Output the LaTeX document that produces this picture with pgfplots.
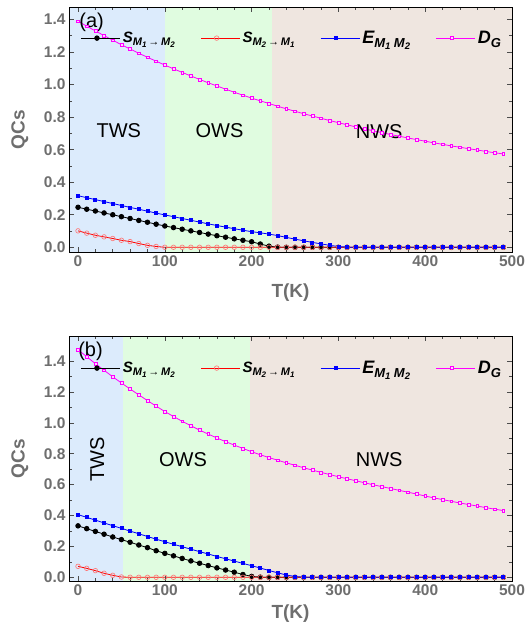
\documentclass[border=0pt]{standalone}
\usepackage{pgfplots}
\pgfplotsset{compat=1.18}
\usepackage{pgfplotstable}
\usepackage{fontspec}
\setmainfont{Liberation Sans}

\definecolor{twsbg}{RGB}{220,235,252}
\definecolor{owsbg}{RGB}{224,252,224}
\definecolor{nwsbg}{RGB}{239,230,224}
\definecolor{labgray}{RGB}{110,110,110}
\definecolor{dgmag}{RGB}{255,0,255}
\definecolor{dgfill}{RGB}{255,210,255}

% T, S(M1->M2), S(M2->M1), E(M1 M2), D_G
\pgfplotstableread{
T S12 S21 E D
0 0.246 0.101 0.317 1.390
10 0.234 0.087 0.305 1.359
20 0.223 0.074 0.293 1.330
30 0.211 0.064 0.281 1.301
40 0.200 0.054 0.269 1.273
50 0.188 0.043 0.257 1.245
60 0.177 0.035 0.245 1.219
70 0.165 0.023 0.234 1.193
80 0.154 0.012 0.222 1.168
90 0.142 0.005 0.210 1.144
100 0.131 0.000 0.199 1.120
110 0.121 0 0.188 1.097
120 0.111 0 0.177 1.075
130 0.101 0 0.166 1.053
140 0.091 0 0.155 1.032
150 0.081 0 0.144 1.011
160 0.071 0 0.134 0.992
170 0.062 0 0.124 0.972
180 0.052 0 0.114 0.953
190 0.043 0 0.105 0.935
200 0.034 0 0.096 0.917
210 0.020 0 0.089 0.900
220 0.007 0 0.081 0.884
230 0.001 0 0.072 0.867
240 0 0 0.061 0.851
250 0 0 0.050 0.836
260 0 0 0.040 0.821
270 0 0 0.030 0.807
280 0 0 0.021 0.793
290 0 0 0.012 0.779
300 0 0 0.005 0.766
310 0 0 0.001 0.753
320 0 0 0 0.740
330 0 0 0 0.728
340 0 0 0 0.716
350 0 0 0 0.705
360 0 0 0 0.693
370 0 0 0 0.683
380 0 0 0 0.672
390 0 0 0 0.662
400 0 0 0 0.652
410 0 0 0 0.642
420 0 0 0 0.633
430 0 0 0 0.623
440 0 0 0 0.615
450 0 0 0 0.606
460 0 0 0 0.598
470 0 0 0 0.589
480 0 0 0 0.581
490 0 0 0 0.574
}\dataA

\pgfplotstableread{
T S12 S21 E D
0 0.333 0.071 0.406 1.473
10 0.315 0.058 0.388 1.428
20 0.297 0.043 0.370 1.383
30 0.279 0.026 0.352 1.340
40 0.261 0.013 0.334 1.298
50 0.244 0.002 0.317 1.258
60 0.227 0 0.299 1.219
70 0.209 0 0.282 1.181
80 0.192 0 0.264 1.144
90 0.172 0 0.247 1.108
100 0.155 0 0.230 1.073
110 0.139 0 0.214 1.041
120 0.122 0 0.198 1.010
130 0.106 0 0.182 0.981
140 0.091 0 0.166 0.953
150 0.076 0 0.151 0.927
160 0.061 0 0.135 0.902
170 0.047 0 0.120 0.878
180 0.033 0 0.105 0.856
190 0.018 0 0.090 0.834
200 0.006 0 0.075 0.813
210 0.001 0 0.060 0.793
220 0 0 0.044 0.775
230 0 0 0.029 0.758
240 0 0 0.015 0.741
250 0 0 0.005 0.725
260 0 0 0.001 0.709
270 0 0 0 0.694
280 0 0 0 0.679
290 0 0 0 0.665
300 0 0 0 0.651
310 0 0 0 0.638
320 0 0 0 0.625
330 0 0 0 0.612
340 0 0 0 0.599
350 0 0 0 0.587
360 0 0 0 0.575
370 0 0 0 0.563
380 0 0 0 0.551
390 0 0 0 0.539
400 0 0 0 0.526
410 0 0 0 0.514
420 0 0 0 0.503
430 0 0 0 0.492
440 0 0 0 0.481
450 0 0 0 0.471
460 0 0 0 0.461
470 0 0 0 0.451
480 0 0 0 0.441
490 0 0 0 0.432
}\dataB

\newcommand{\sub}[1]{\raisebox{-0.4ex}{\fontsize{11}{11}\selectfont #1}}
\newcommand{\ssub}[1]{\raisebox{-0.3ex}{\fontsize{8}{8}\selectfont #1}}
\newcommand{\subb}[1]{\raisebox{-0.4ex}{\fontsize{13}{13}\selectfont #1}}
\newcommand{\ssubb}[1]{\raisebox{-0.3ex}{\fontsize{9.5}{9.5}\selectfont #1}}
\newcommand{\legS}[2]{{\fontsize{15}{15}\selectfont S\sub{M\ssub{#1}\,→\,M\ssub{#2}}}}
\newcommand{\legE}{{\fontsize{18}{18}\selectfont E\subb{M\ssubb{1}\ M\ssubb{2}}}}
\newcommand{\legD}{{\fontsize{18}{18}\selectfont D\subb{G}}}

\pgfplotsset{
  qcs/.style={
    scale only axis, width=443pt, height=245pt,
    anchor=south west,
    xmin=-10.4, xmax=500,
    xtick={0,100,200,300,400,500}, minor x tick num=4,
    ytick={0,0.2,0.4,0.6,0.8,1.0,1.2,1.4}, minor y tick num=1,
    tick align=inside, major tick length=5pt, minor tick length=3pt,
    axis on top,
    axis line style={line width=1pt},
    tick style={line width=0.6pt, black!70},
    ticklabel style={font=\fontsize{15.5}{15.5}\selectfont\bfseries, text=labgray},
    /pgf/number format/assume math mode=true,
    y tick label style={/pgf/number format/fixed, /pgf/number format/fixed zerofill, /pgf/number format/precision=1},
    label style={font=\fontsize{19}{19}\selectfont\bfseries, text=labgray},
    ylabel={QCs}, xlabel={T(K)},
    ylabel style={at={(axis description cs:-0.111,0.5)}, anchor=center},
    legend columns=4,
    legend style={draw=none, fill=none, anchor=west, font=\bfseries\itshape,
      /tikz/every even column/.append style={column sep=24pt}},
    legend image code/.code={\path (0pt,0pt) -- (39pt,0pt);
      \draw[mark repeat=2,mark phase=2] plot coordinates {(0pt,0pt) (15.5pt,0pt) (31pt,0pt)};},
    every axis plot/.append style={line width=0.8pt},
  },
  sA/.style={black, mark=*, mark size=2.3pt},
  sB/.style={red, mark=o, mark size=2.3pt, mark options={draw=red!55, line width=0.6pt}},
  sC/.style={blue, mark=square*, mark size=1.5pt},
  sD/.style={dgmag, mark=square*, mark size=1.4pt, mark options={fill=dgfill, line width=0.5pt}},
  region/.style={draw=none, fill=#1, forget plot, mark=none},
}

\begin{document}
\begin{tikzpicture}
\path[use as bounding box] (0,0) rectangle (529pt,-632pt);

\begin{axis}[qcs, at={(69pt,-252pt)}, ymin=-0.029, ymax=1.477,
  xlabel style={at={(axis description cs:0.5,-0.166)}, anchor=center},
  legend style={at={(axis description cs:0.02,0.873)}}]
\addplot[region=twsbg] coordinates {(-10.4,-0.029) (100,-0.029) (100,1.477) (-10.4,1.477)} -- cycle;
\addplot[region=owsbg] coordinates {(100,-0.029) (224,-0.029) (224,1.477) (100,1.477)} -- cycle;
\addplot[region=nwsbg] coordinates {(224,-0.029) (500,-0.029) (500,1.477) (224,1.477)} -- cycle;
\addplot[sA] table[x=T, y=S12] {\dataA};
\addplot[sB] table[x=T, y=S21] {\dataA};
\addplot[sC] table[x=T, y=E] {\dataA};
\addplot[sD] table[x=T, y=D] {\dataA};
\legend{\legS{1}{2}, \legS{2}{1}, \legE, \legD}
\node[font=\fontsize{20}{20}\selectfont] at (axis cs:15.6,1.385) {(a)};
\node[font=\fontsize{20}{20}\selectfont] at (axis cs:47,0.72) {TWS};
\node[font=\fontsize{20}{20}\selectfont] at (axis cs:163,0.72) {OWS};
\node[font=\fontsize{20}{20}\selectfont] at (axis cs:347,0.71) {NWS};
\end{axis}

\begin{axis}[qcs, at={(69pt,-581pt)}, ymin=-0.024, ymax=1.562,
  xlabel style={at={(axis description cs:0.5,-0.133)}, anchor=center},
  legend style={at={(axis description cs:0.02,0.869)}}]
\addplot[region=twsbg] coordinates {(-10.4,-0.024) (52,-0.024) (52,1.562) (-10.4,1.562)} -- cycle;
\addplot[region=owsbg] coordinates {(52,-0.024) (198,-0.024) (198,1.562) (52,1.562)} -- cycle;
\addplot[region=nwsbg] coordinates {(198,-0.024) (500,-0.024) (500,1.562) (198,1.562)} -- cycle;
\addplot[sA] table[x=T, y=S12] {\dataB};
\addplot[sB] table[x=T, y=S21] {\dataB};
\addplot[sC] table[x=T, y=E] {\dataB};
\addplot[sD] table[x=T, y=D] {\dataB};
\legend{\legS{1}{2}, \legS{2}{1}, \legE, \legD}
\node[font=\fontsize{20}{20}\selectfont] at (axis cs:14.4,1.46) {(b)};
\node[font=\fontsize{20}{20}\selectfont, rotate=90] at (axis cs:22,0.765) {TWS};
\node[font=\fontsize{20}{20}\selectfont] at (axis cs:121,0.76) {OWS};
\node[font=\fontsize{20}{20}\selectfont] at (axis cs:347,0.76) {NWS};
\end{axis}
\end{tikzpicture}
\end{document}
